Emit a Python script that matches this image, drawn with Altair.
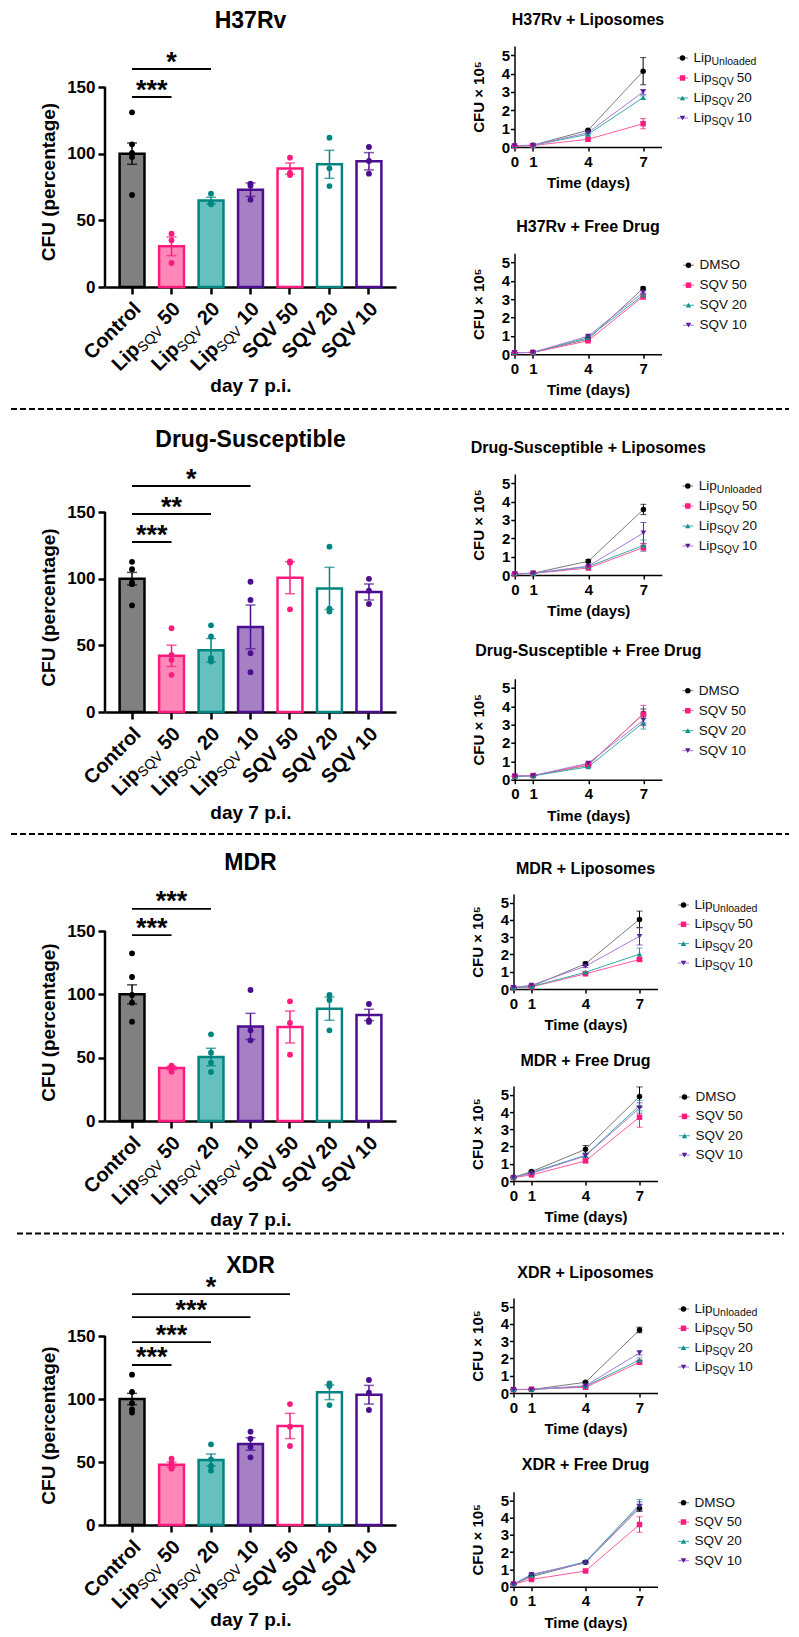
import altair as alt
import pandas as pd

FONT = "Liberation Sans"

# ---------------- categories / styling ----------------
GROUPS = ["Control", "Lip50", "Lip20", "Lip10", "SQV50", "SQV20", "SQV10"]
LABEL_MAIN = ["Control", "Lip", "Lip", "Lip", "SQV 50", "SQV 20", "SQV 10"]
LABEL_SUB = ["", "SQV", "SQV", "SQV", "", "", ""]
LABEL_NUM = ["", "50", "20", "10", "", "", ""]
BAR_FILL = ["#808080", "#FF88B8", "#66C1BE", "#A680C5", "#FFFFFF", "#FFFFFF", "#FFFFFF"]
BAR_EDGE = ["#000000", "#FF1A7D", "#008580", "#4B0E8F", "#FF1A7D", "#008580", "#4B0E8F"]

# ---------------- bar data (percent of control, day 7) ----------------
H37_MEAN = [100, 30.5, 64.8, 73.0, 88.8, 92.0, 94.3]
H37_SEM = [8.0, 7.0, 2.5, 5.0, 4.2, 10.5, 6.5]
H37_PTS = [[131, 107, 100.5, 97.5, 69], [40, 35, 18], [70, 63, 62], [77.5, 76, 65.5],
           [97, 85.5, 84], [112, 89, 75.7], [105, 94.5, 85]]
H37_SIG_TO = [1, 2]
H37_SIG_Y = [142.5, 163.5]
H37_SIG_TXT = ["***", "*"]

DS_MEAN = [100, 42.1, 46.3, 63.8, 100.7, 92.7, 90.0]
DS_SEM = [4.7, 8.0, 8.8, 16.4, 12.0, 15.8, 6.0]
DS_PTS = [[112.6, 107.1, 97.2, 95.9, 80], [62.8, 42.9, 39.1, 27.9], [65, 56.6, 40.4, 37.9],
          [97.7, 84, 44.1, 29.9], [112.9, 112, 77], [124, 77.5, 75.3], [99.9, 91, 81]]
DS_SIG_TO = [1, 2, 3]
DS_SIG_Y = [127.5, 148.5, 169.5]
DS_SIG_TXT = ["***", "**", "*"]

MDR_MEAN = [100, 41.8, 50.5, 74.7, 74.2, 88.7, 83.7]
MDR_SEM = [7.5, 1.5, 6.9, 10.3, 12.6, 9.2, 4.5]
MDR_PTS = [[132.4, 113.7, 99.5, 93.4, 78.4], [43.7, 43.0, 38.9], [68.4, 53.9, 46, 38.7],
           [103.4, 71.6, 63.7], [94.5, 77.4, 52.4], [99.5, 95.5, 71.6], [92.4, 79.5, 78.2]]
MDR_SIG_TO = [1, 2]
MDR_SIG_Y = [146.8, 167.4]
MDR_SIG_TXT = ["***", "***"]

XDR_MEAN = [100, 47.9, 51.6, 64.3, 78.6, 105.3, 103.4]
XDR_SEM = [4.5, 2.1, 4.7, 5.0, 10.0, 5.8, 7.4]
XDR_PTS = [[119.3, 105.6, 96.6, 91.8, 89.2], [52.6, 48.9, 45.8, 44.7], [64, 52.1, 46.8, 43.1],
           [74.1, 68.5, 61.9, 53.7], [96, 78, 62.7], [112.4, 110.3, 95.2], [115.1, 105, 91.3]]
XDR_SIG_TO = [1, 2, 3, 4]
XDR_SIG_Y = [127.0, 145.2, 165.0, 183.3]
XDR_SIG_TXT = ["***", "***", "***", "*"]

# ---------------- time-course data (CFU x 10^5) ----------------
DAYS = [0, 1, 4, 7]
KEYS = ["k0", "k1", "k2", "k3"]
LIPO_MAIN = ["Lip", "Lip", "Lip", "Lip"]
LIPO_SUB = ["Unloaded", "SQV", "SQV", "SQV"]
LIPO_NUM = ["", "50", "20", "10"]
FREE_MAIN = ["DMSO", "SQV 50", "SQV 20", "SQV 10"]
SER_COLOR = ["#000000", "#FF1A7D", "#10938F", "#5A1C9C"]
SER_LINE = ["#7A7A7A", "#FF5A9E", "#3AAAA6", "#A77BD6"]
SER_SHAPE = ["circle", "square", "triangle-up", "triangle-down"]

H37_LIPO = [[0.07, 0.10, 0.91, 4.13], [0.05, 0.08, 0.42, 1.27], [0.06, 0.09, 0.69, 2.69], [0.06, 0.09, 0.78, 3.00]]
H37_LIPO_SEM = [[0.02, 0.02, 0.06, 0.74], [0.01, 0.01, 0.04, 0.28], [0.01, 0.01, 0.05, 0.10], [0.01, 0.01, 0.05, 0.13]]
H37_FREE = [[0.08, 0.10, 0.82, 3.58], [0.08, 0.09, 0.73, 3.14], [0.08, 0.10, 0.90, 3.23], [0.08, 0.10, 0.98, 3.37]]
H37_FREE_SEM = [[0.01, 0.01, 0.05, 0.08], [0.01, 0.01, 0.04, 0.15], [0.01, 0.01, 0.05, 0.10], [0.01, 0.01, 0.05, 0.10]]

DS_LIPO = [[0.07, 0.10, 0.75, 3.57], [0.06, 0.09, 0.38, 1.50], [0.06, 0.09, 0.46, 1.61], [0.06, 0.10, 0.48, 2.29]]
DS_LIPO_SEM = [[0.01, 0.02, 0.08, 0.28], [0.01, 0.01, 0.04, 0.20], [0.01, 0.01, 0.04, 0.30], [0.01, 0.01, 0.04, 0.57]]
DS_FREE = [[0.18, 0.22, 0.79, 3.60], [0.20, 0.23, 0.82, 3.57], [0.18, 0.21, 0.70, 3.11], [0.19, 0.22, 0.90, 3.24]]
DS_FREE_SEM = [[0.02, 0.02, 0.05, 0.25], [0.02, 0.02, 0.05, 0.48], [0.02, 0.02, 0.04, 0.35], [0.02, 0.02, 0.05, 0.30]]

MDR_LIPO = [[0.07, 0.15, 1.46, 4.03], [0.07, 0.12, 0.88, 1.71], [0.07, 0.14, 0.97, 2.02], [0.10, 0.22, 1.32, 3.05]]
MDR_LIPO_SEM = [[0.02, 0.03, 0.10, 0.48], [0.01, 0.02, 0.05, 0.08], [0.01, 0.02, 0.05, 0.35], [0.02, 0.03, 0.08, 0.50]]
MDR_FREE = [[0.22, 0.55, 1.84, 4.90], [0.20, 0.36, 1.17, 3.70], [0.21, 0.50, 1.49, 4.37], [0.21, 0.45, 1.46, 4.23]]
MDR_FREE_SEM = [[0.02, 0.04, 0.22, 0.55], [0.02, 0.03, 0.08, 0.58], [0.02, 0.04, 0.10, 0.30], [0.02, 0.04, 0.10, 0.30]]

XDR_LIPO = [[0.20, 0.20, 0.62, 3.65], [0.20, 0.22, 0.33, 1.78], [0.20, 0.20, 0.39, 1.91], [0.20, 0.20, 0.42, 2.32]]
XDR_LIPO_SEM = [[0.02, 0.02, 0.05, 0.16], [0.02, 0.02, 0.03, 0.10], [0.02, 0.02, 0.03, 0.12], [0.02, 0.02, 0.03, 0.12]]
XDR_FREE = [[0.15, 0.58, 1.41, 4.55], [0.15, 0.42, 0.91, 3.60], [0.15, 0.65, 1.45, 4.75], [0.15, 0.72, 1.38, 4.67]]
XDR_FREE_SEM = [[0.02, 0.04, 0.06, 0.20], [0.02, 0.04, 0.05, 0.45], [0.02, 0.04, 0.06, 0.30], [0.02, 0.04, 0.06, 0.25]]

# ---------------- text width helper (Arial / Liberation metrics) ----------------
REG = {"L": 556, "i": 222, "p": 556, "S": 667, "Q": 778, "V": 667, " ": 278}
BOLD = {"L": 611, "i": 278, "p": 611, "S": 667, "Q": 778, "V": 667, " ": 278}


def tw(s, size, bold=False):
    t = BOLD if bold else REG
    return sum(t.get(c, 556) for c in s) * size / 1000.0


def bar_panel(title, means, sems, pts, sig_to, sig_y, sig_txt, W, H150, Htot, t_off, x_tp, ty_shift):
    pad = 0.37
    ytop = 150.0 * Htot / H150
    gdf = pd.DataFrame({"g": GROUPS, "mean": means, "sem": sems, "fillc": BAR_FILL, "edgec": BAR_EDGE,
                        "main": LABEL_MAIN, "sub": LABEL_SUB, "num": LABEL_NUM})
    prow = [{"g": g, "v": v, "edgec": c} for g, vs, c in zip(GROUPS, pts, BAR_EDGE) for v in vs]
    pdf = pd.DataFrame(prow)
    sdf = pd.DataFrame({"a": [0] * len(sig_to), "b": sig_to, "lev": sig_y, "txt": sig_txt})

    xs = alt.Scale(domain=GROUPS, paddingInner=pad, paddingOuter=pad)
    ys = alt.Scale(domain=[0, ytop], nice=False)
    xl = alt.Scale(domain=[-(1 + pad) / 2, -(1 + pad) / 2 + 7 + pad], nice=False, zero=False)

    x_axis = alt.Axis(labels=False, grid=False, title="day 7 p.i.", tickSize=7, tickWidth=2.5,
                      tickColor="black", domainWidth=2.5, domainColor="black", titleFont=FONT,
                      titleFontSize=19, titleFontWeight="bold", titleColor="black", titlePadding=x_tp)
    y_axis = alt.Axis(values=[0, 50, 100, 150], grid=False, domain=False, tickSize=7, tickWidth=2.5,
                      tickColor="black", labelFont=FONT, labelFontSize=17, labelOverlap=False,
                      labelFontWeight="bold", labelColor="black", labelPadding=3,
                      title="CFU (percentage)", titleFont=FONT, titleFontSize=19,
                      titleFontWeight="bold", titleColor="black", titlePadding=8,
                      titleY=(Htot - H150) + H150 / 2 - ty_shift)
    X = alt.X("g:N", scale=xs, sort=GROUPS, axis=x_axis)
    Xp = alt.X("g:N", scale=xs, sort=GROUPS, axis=x_axis)
    col = alt.Color("edgec:N", scale=None)

    def Y(f):
        return alt.Y(f, scale=ys, axis=y_axis)

    bars = alt.Chart(gdf).mark_bar(strokeWidth=2.5).encode(
        x=X, y=Y("mean:Q"),
        fill=alt.Fill("fillc:N", scale=None), stroke=alt.Stroke("edgec:N", scale=None))
    yline = alt.Chart(gdf.head(1)).mark_rule(strokeWidth=2.5, color="black").encode(
        x=alt.value(0), y=alt.datum(0), y2=alt.datum(150))
    eb = alt.Chart(gdf).transform_calculate(lo="datum.mean - datum.sem", hi="datum.mean + datum.sem")
    err = eb.mark_rule(strokeWidth=1.5).encode(x=Xp, y=Y("lo:Q"), y2="hi:Q", color=col)
    cap_lo = eb.mark_tick(thickness=1.5, size=10).encode(x=Xp, y=Y("lo:Q"), color=col)
    cap_hi = eb.mark_tick(thickness=1.5, size=10).encode(x=Xp, y=Y("hi:Q"), color=col)
    dots = alt.Chart(pdf).mark_circle(size=34, opacity=1).encode(x=Xp, y=Y("v:Q"), color=col)

    LY = Htot + 19
    LDX, LDY = 4.0, 4.0
    w_num = tw("50", 20, True) + tw(" ", 20, True)
    w_sub = tw("SQV", 14)
    lab = alt.Chart(gdf)
    tk = dict(angle=315, align="right", baseline="middle", font=FONT, color="black")
    lab_plain = lab.transform_filter("datum.sub == ''").mark_text(
        fontSize=20, fontWeight="bold", dx=LDX, dy=LDY, **tk).encode(x=Xp, y=alt.value(LY), text="main:N")
    lab_lip = lab.transform_filter("datum.sub != ''").mark_text(
        fontSize=20, fontWeight="bold", dx=LDX - w_num - w_sub, dy=LDY, **tk).encode(
        x=Xp, y=alt.value(LY), text="main:N")
    lab_sub = lab.transform_filter("datum.sub != ''").mark_text(
        fontSize=14, fontWeight="normal", dx=LDX - w_num, dy=LDY + 5, **tk).encode(
        x=Xp, y=alt.value(LY), text="sub:N")
    lab_num = lab.transform_filter("datum.sub != ''").mark_text(
        fontSize=20, fontWeight="bold", dx=LDX, dy=LDY, **tk).encode(
        x=Xp, y=alt.value(LY), text="num:N")

    sig_rule = alt.Chart(sdf).mark_rule(strokeWidth=1.8, color="black").encode(
        x=alt.X("a:Q", scale=xl, axis=None), x2="b:Q", y=Y("lev:Q"))
    sig_star = alt.Chart(sdf).transform_calculate(mid="(datum.a + datum.b) / 2").mark_text(
        fontSize=27, fontWeight="bold", font=FONT, baseline="alphabetic", align="center", dy=1.5,
        color="black").encode(x=alt.X("mid:Q", scale=xl, axis=None), y=Y("lev:Q"), text="txt:N")

    main = alt.layer(bars, yline, err, cap_lo, cap_hi, dots, lab_plain, lab_lip, lab_sub, lab_num)
    sig = alt.layer(sig_rule, sig_star)
    return alt.layer(main, sig).resolve_scale(x="independent").properties(
        width=W, height=Htot,
        title=alt.TitleParams(text=title, font=FONT, fontSize=23, fontWeight="bold", anchor="middle",
                              frame="group", offset=t_off, color="black"))


def line_panel(title, vals, errs, leg_main, leg_sub, leg_num, W, H, t_off, leg_range, leg_dx):
    rows = []
    for k, vs, es, pc, lc, sh in zip(KEYS, vals, errs, SER_COLOR, SER_LINE, SER_SHAPE):
        for d, v, e in zip(DAYS, vs, es):
            rows.append({"s": k, "day": d, "v": v, "e": e, "pc": pc, "lc": lc, "shp": sh})
    df = pd.DataFrame(rows)
    ldf = pd.DataFrame({"s": KEYS, "o": [0, 1, 2, 3], "main": leg_main,
                        "sub": leg_sub if leg_sub else [""] * 4,
                        "num": leg_num if leg_num else [""] * 4,
                        "pc": SER_COLOR, "lc": SER_LINE, "shp": SER_SHAPE})

    xs = alt.Scale(domain=[0, 8], nice=False)
    ys = alt.Scale(domain=[0, 5.5], nice=False)
    common = dict(grid=False, domainColor="black", domainWidth=1.5, tickColor="black", tickWidth=1.5,
                  tickSize=4, labelFont=FONT, labelFontSize=15, labelFontWeight="bold", labelColor="black",
                  labelOverlap=False, labelFlush=False,
                  titleFont=FONT, titleFontSize=15, titleFontWeight="bold", titleColor="black")
    x_axis = alt.Axis(values=DAYS, title="Time (days)", labelPadding=3, titlePadding=6.5, **common)
    y_axis = alt.Axis(values=[0, 1, 2, 3, 4, 5], tickCount=6, title="CFU × 10⁵", labelPadding=1,
                      titlePadding=15, **common)
    X = alt.X("day:Q", scale=xs, axis=x_axis)
    col = alt.Color("pc:N", scale=None)
    shape = alt.Shape("shp:N", scale=None)

    def Y(f):
        return alt.Y(f, scale=ys, axis=y_axis)

    base = alt.Chart(df).transform_calculate(lo="datum.v - datum.e", hi="datum.v + datum.e")
    lines = base.mark_line(strokeWidth=1).encode(
        x=X, y=Y("v:Q"), color=alt.Color("lc:N", scale=None), detail="s:N")
    err = base.mark_rule(strokeWidth=1).encode(x=X, y=Y("lo:Q"), y2="hi:Q", color=col)
    cap_lo = base.mark_tick(orient="horizontal", thickness=1, size=6).encode(x=X, y=Y("lo:Q"), color=col)
    cap_hi = base.mark_tick(orient="horizontal", thickness=1, size=6).encode(x=X, y=Y("hi:Q"), color=col)
    pts = base.mark_point(filled=True, size=30, opacity=1).encode(x=X, y=Y("v:Q"), color=col, shape=shape)

    ly = alt.Y("o:O", scale=alt.Scale(type="point", range=leg_range, padding=0), axis=None)
    lg = alt.Chart(ldf)
    mx = W + leg_dx
    seg = lg.mark_rule(strokeWidth=1).encode(x=alt.value(mx - 5.5), x2=alt.value(mx + 5.5), y=ly,
                                             color=alt.Color("lc:N", scale=None))
    sym = lg.mark_point(filled=True, size=30, opacity=1).encode(x=alt.value(mx), y=ly, color=col, shape=shape)
    tx = dict(align="left", baseline="middle", font=FONT, color="#111111")
    t_main = lg.mark_text(fontSize=13.5, **tx).encode(x=alt.value(mx + 11), y=ly, text="main:N")
    leg_layers = [seg, sym, t_main]
    if leg_sub:
        w_lip = tw("Lip", 13.5)
        t_sub = lg.mark_text(fontSize=10.5, dx=w_lip, dy=4, **tx).encode(
            x=alt.value(mx + 11), y=ly, text="sub:N")
        t_num = lg.mark_text(fontSize=13.5, dx=w_lip + tw("SQV", 10.5) + 3, **tx).encode(
            x=alt.value(mx + 11), y=ly, text="num:N")
        leg_layers += [t_sub, t_num]

    data_layer = alt.layer(lines, err, cap_lo, cap_hi, pts)
    legend_layer = alt.layer(*leg_layers)
    return alt.layer(data_layer, legend_layer).resolve_scale(y="independent").properties(
        width=W, height=H,
        title=alt.TitleParams(text=title, font=FONT, fontSize=16, fontWeight="bold", anchor="middle",
                              frame="group", offset=t_off, color="black"))


def separator(x0, x1, gap, h):
    return alt.Chart(pd.DataFrame({"k": [0]})).mark_rule(
        color="black", strokeWidth=2, strokeDash=[6, 3]).encode(
        x=alt.value(x0), x2=alt.value(x1), y=alt.value(gap)).properties(width=1, height=h)


def row(bar, l1, l2, s_in, s_h):
    right = alt.vconcat(l1, l2, spacing=s_in)
    return alt.hconcat(bar, right, spacing=s_h)


LEG_A = [12, 72]
LEG_B = [11, 69]
BW = 291

row1 = row(
    bar_panel("H37Rv", H37_MEAN, H37_SEM, H37_PTS, H37_SIG_TO, H37_SIG_Y, H37_SIG_TXT,
              BW, 200, 241, 13, 81, 5.5),
    line_panel("H37Rv + Liposomes", H37_LIPO, H37_LIPO_SEM, LIPO_MAIN, LIPO_SUB, LIPO_NUM,
               147, 101, 18.3, LEG_A, 21),
    line_panel("H37Rv + Free Drug", H37_FREE, H37_FREE_SEM, FREE_MAIN, None, None,
               147, 101, 18.3, LEG_A, 27),
    27.2, 74.5)
row2 = row(
    bar_panel("Drug-Susceptible", DS_MEAN, DS_SEM, DS_PTS, DS_SIG_TO, DS_SIG_Y, DS_SIG_TXT,
              BW, 200, 238, 13.6, 83, 5),
    line_panel("Drug-Susceptible + Liposomes", DS_LIPO, DS_LIPO_SEM, LIPO_MAIN, LIPO_SUB, LIPO_NUM,
               147, 101, 18.4, LEG_A, 26),
    line_panel("Drug-Susceptible + Free Drug", DS_FREE, DS_FREE_SEM, FREE_MAIN, None, None,
               147, 101, 19.3, LEG_A, 26),
    23.7, 73.8)
row3 = row(
    bar_panel("MDR", MDR_MEAN, MDR_SEM, MDR_PTS, MDR_SIG_TO, MDR_SIG_Y, MDR_SIG_TXT,
              BW, 190, 227, 13.1, 81, 4),
    line_panel("MDR + Liposomes", MDR_LIPO, MDR_LIPO_SEM, LIPO_MAIN, LIPO_SUB, LIPO_NUM,
               144, 95, 17.4, LEG_B, 26),
    line_panel("MDR + Free Drug", MDR_FREE, MDR_FREE_SEM, FREE_MAIN, None, None,
               144, 95, 16.9, LEG_B, 27),
    20.1, 73.5)
row4 = row(
    bar_panel("XDR", XDR_MEAN, XDR_SEM, XDR_PTS, XDR_SIG_TO, XDR_SIG_Y, XDR_SIG_TXT,
              BW, 189, 227, -4.9, 77, 5.5),
    line_panel("XDR + Liposomes", XDR_LIPO, XDR_LIPO_SEM, LIPO_MAIN, LIPO_SUB, LIPO_NUM,
               144, 95, 17.1, LEG_B, 26),
    line_panel("XDR + Free Drug", XDR_FREE, XDR_FREE_SEM, FREE_MAIN, None, None,
               144, 95, 18.3, LEG_B, 26),
    19.7, 73.5)

chart = alt.vconcat(
    row1, separator(-94, 684, 9, 25.6), row2, separator(-94, 684, 8, 23.8), row3,
    separator(-88, 679, 1.5, 20.5), row4,
    spacing=2,
).properties(
    padding={"left": 2, "top": 2, "right": 0, "bottom": 0}, background="white"
).configure_view(strokeWidth=0, stroke=None)

chart.save("out.html", embed_options={"renderer": "svg", "actions": False})
